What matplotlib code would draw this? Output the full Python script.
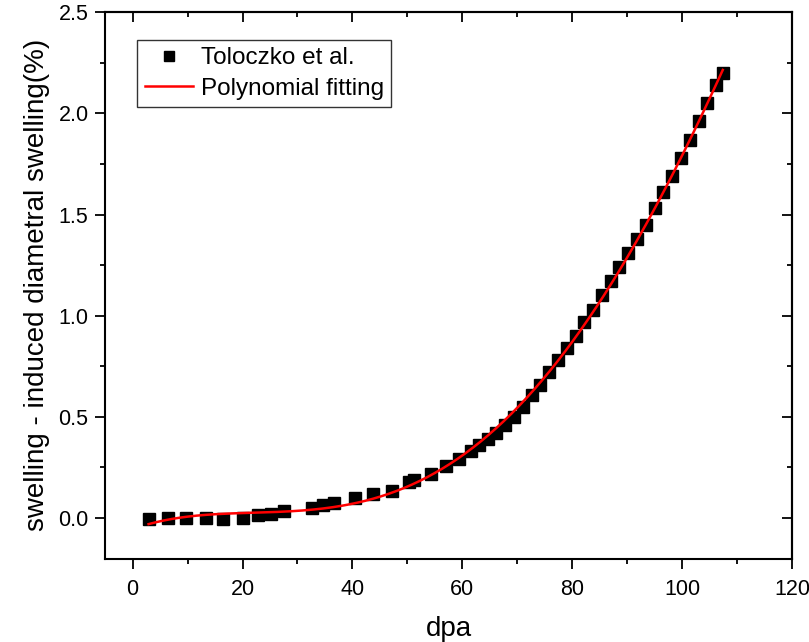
import numpy as np
import matplotlib
matplotlib.use('Agg')
import matplotlib.pyplot as plt
from matplotlib.ticker import MultipleLocator, FormatStrFormatter

plt.rcParams['font.family'] = ['Liberation Sans', 'DejaVu Sans']

# Toloczko et al. data
dpa = [2.9, 6.4, 9.8, 13.4, 16.5, 20.1, 22.8, 25.2, 27.6, 32.7, 34.7, 36.7,
       40.4, 43.7, 47.2, 50.3, 51.2, 54.3, 57.1, 59.4,
       61.5, 63.0, 64.6, 66.2, 67.8, 69.4, 71.0, 72.6, 74.2, 75.8, 77.4,
       79.0, 80.6, 82.2, 83.8, 85.4, 87.0, 88.6, 90.2, 91.8, 93.4, 95.0,
       96.6, 98.2, 99.8, 101.4, 103.0, 104.6, 106.2, 107.4]
swelling = [-0.005, 0.0, 0.0, 0.0, -0.005, 0.0, 0.015, 0.02, 0.033, 0.048,
            0.064, 0.076, 0.10, 0.12, 0.135, 0.18, 0.19, 0.217, 0.255, 0.29,
            0.33, 0.36, 0.39, 0.42, 0.46, 0.50, 0.55, 0.61, 0.66, 0.72, 0.78,
            0.84, 0.90, 0.97, 1.03, 1.10, 1.17, 1.24, 1.31, 1.38, 1.45, 1.53,
            1.61, 1.69, 1.78, 1.87, 1.96, 2.05, 2.14, 2.20]

# polynomial fit of the data
coef = np.polyfit(dpa, swelling, 4)
x_fit = np.linspace(min(dpa), max(dpa), 300)
y_fit = np.polyval(coef, x_fit)

fig = plt.figure(figsize=(8.09, 6.42), dpi=100)
ax = fig.add_axes([0.130, 0.130, 0.849, 0.851])

ax.plot(dpa, swelling, 's', color='black', markersize=8, label='Toloczko et al.')
ax.plot(x_fit, y_fit, '-', color='red', linewidth=1.8, label='Polynomial fitting')

ax.set_xlim(-5, 120)
ax.set_ylim(-0.2, 2.5)
ax.xaxis.set_major_locator(MultipleLocator(20))
ax.xaxis.set_minor_locator(MultipleLocator(10))
ax.yaxis.set_major_locator(MultipleLocator(0.5))
ax.yaxis.set_minor_locator(MultipleLocator(0.25))
ax.yaxis.set_major_formatter(FormatStrFormatter('%.1f'))

for s in ax.spines.values():
    s.set_linewidth(1.5)
ax.tick_params(axis='y', which='major', direction='out', length=7, width=1.3,
               labelsize=15.5, pad=5)
ax.tick_params(axis='x', which='major', direction='out', length=7, width=1.3,
               labelsize=15.5, pad=8)
ax.tick_params(which='minor', direction='out', length=3.5, width=1.3)

# inward ticks on the top and right sides
top = ax.secondary_xaxis('top')
top.xaxis.set_major_locator(MultipleLocator(20))
top.xaxis.set_minor_locator(MultipleLocator(10))
top.tick_params(which='major', direction='in', length=7, width=1.3, labeltop=False)
top.tick_params(which='minor', direction='in', length=3.5, width=1.3)
right = ax.secondary_yaxis('right')
right.yaxis.set_major_locator(MultipleLocator(0.5))
right.yaxis.set_minor_locator(MultipleLocator(0.25))
right.tick_params(which='major', direction='in', length=7, width=1.3, labelright=False)
right.tick_params(which='minor', direction='in', length=3.5, width=1.3)
top.spines['top'].set_linewidth(1.5)
right.spines['right'].set_linewidth(1.5)

ax.set_xlabel('dpa', fontsize=20, labelpad=11)
ax.set_ylabel('swelling - induced diametral swelling(%)', fontsize=20, labelpad=6)

leg = ax.legend(loc='upper left', bbox_to_anchor=(0.047, 0.949), fontsize=17.5,
                frameon=True, fancybox=False, edgecolor='#333333', framealpha=1,
                borderaxespad=0, handlelength=2.0, handletextpad=0.3,
                borderpad=0.3, labelspacing=0.35, markerscale=0.9)
leg.get_frame().set_linewidth(1.0)

fig.savefig('out.png', dpi=100)
